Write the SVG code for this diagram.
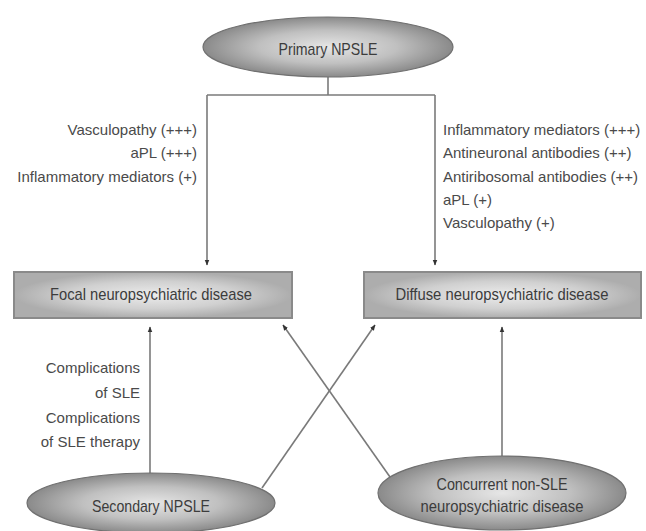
<svg xmlns="http://www.w3.org/2000/svg" width="646" height="531" viewBox="0 0 646 531">
<style>
.lbl{font-family:"Liberation Sans",Arial,sans-serif;font-size:15px;fill:#4a4a4a}
.nd{font-family:"Liberation Sans",Arial,sans-serif;font-size:17px;fill:#3c3c3c;text-anchor:middle}
.ell{fill:url(#eg);stroke:#707070;stroke-width:1.2}
.box{fill:url(#bg);stroke:#8a8a8a;stroke-width:2}
.ln{fill:none;stroke:#7a7a7a;stroke-width:1.6}
.arr{marker-end:url(#ah)}
</style>
<defs>
<radialGradient id="eg" cx="50%" cy="50%" r="50%">
<stop offset="0" stop-color="#e6e6e6"/>
<stop offset="0.55" stop-color="#c0c0c0"/>
<stop offset="1" stop-color="#8a8a8a"/>
</radialGradient>
<radialGradient id="bg" cx="50%" cy="50%" r="50%">
<stop offset="0" stop-color="#ececec"/>
<stop offset="0.6" stop-color="#d0d0d0"/>
<stop offset="1" stop-color="#adadad"/>
</radialGradient>
<marker id="ah" viewBox="0 0 10 10" refX="9" refY="5" markerWidth="6" markerHeight="6" orient="auto" markerUnits="userSpaceOnUse">
<path d="M0,1 L10,5 L0,9 Z" fill="#333"/>
</marker>
</defs>
<g id="connectors">
<polyline class="ln" points="328,77 328,95"/>
<polyline class="ln" points="207,95 435,95"/>
<line class="ln arr" x1="207" y1="95" x2="207" y2="265"/>
<line class="ln arr" x1="435" y1="95" x2="435" y2="265"/>
<line class="ln arr" x1="150" y1="473" x2="150" y2="327"/>
<line class="ln arr" x1="502" y1="456" x2="502" y2="327"/>
<line class="ln arr" x1="262" y1="488" x2="375" y2="325"/>
<line class="ln arr" x1="390" y1="477" x2="283" y2="325"/>
</g>
<g id="labels-left">
<text class="lbl" x="197" y="135" text-anchor="end">Vasculopathy (+++)</text>
<text class="lbl" x="197" y="158" text-anchor="end">aPL (+++)</text>
<text class="lbl" x="197" y="182" text-anchor="end">Inflammatory mediators (+)</text>
</g>
<g id="labels-right">
<text class="lbl" x="443" y="135">Inflammatory mediators (+++)</text>
<text class="lbl" x="443" y="158">Antineuronal antibodies (++)</text>
<text class="lbl" x="443" y="182">Antiribosomal antibodies (++)</text>
<text class="lbl" x="443" y="205">aPL (+)</text>
<text class="lbl" x="443" y="228">Vasculopathy (+)</text>
</g>
<g id="labels-secondary">
<text class="lbl" x="140" y="373" text-anchor="end">Complications</text>
<text class="lbl" x="140" y="398" text-anchor="end">of SLE</text>
<text class="lbl" x="140" y="423" text-anchor="end">Complications</text>
<text class="lbl" x="140" y="447" text-anchor="end">of SLE therapy</text>
</g>
<g id="primary">
<ellipse class="ell" cx="328" cy="47" rx="125" ry="30"/>
<text class="nd" x="328" y="55" textLength="99" lengthAdjust="spacingAndGlyphs">Primary NPSLE</text>
</g>
<g id="focal">
<rect class="box" x="14" y="272" width="278" height="46"/>
<text class="nd" x="151" y="300" textLength="202" lengthAdjust="spacingAndGlyphs">Focal neuropsychiatric disease</text>
</g>
<g id="diffuse">
<rect class="box" x="364" y="272" width="277" height="46"/>
<text class="nd" x="502" y="300" textLength="213" lengthAdjust="spacingAndGlyphs">Diffuse neuropsychiatric disease</text>
</g>
<g id="secondary">
<ellipse class="ell" cx="151" cy="503" rx="124" ry="30"/>
<text class="nd" x="151" y="512" textLength="118" lengthAdjust="spacingAndGlyphs">Secondary NPSLE</text>
</g>
<g id="concurrent">
<ellipse class="ell" cx="502" cy="493" rx="124" ry="37"/>
<text class="nd" x="502" y="490" textLength="131" lengthAdjust="spacingAndGlyphs">Concurrent non-SLE</text>
<text class="nd" x="502" y="512" textLength="163" lengthAdjust="spacingAndGlyphs">neuropsychiatric disease</text>
</g>
</svg>
